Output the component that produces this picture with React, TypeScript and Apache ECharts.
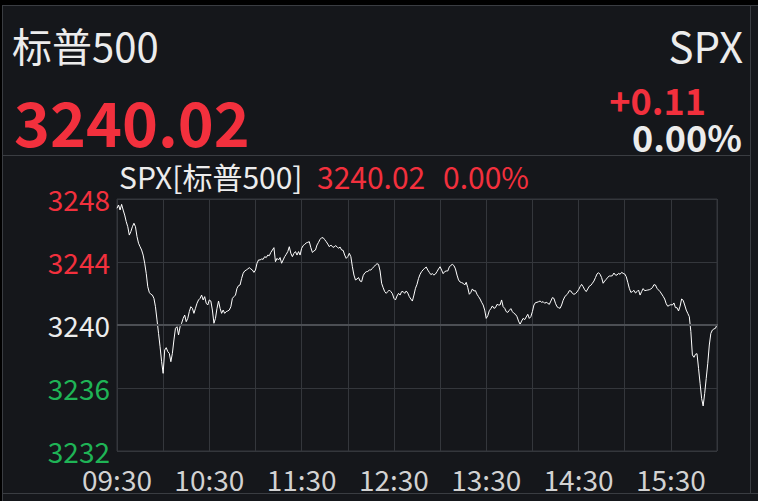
import React, { useEffect, useRef } from "react";
import * as echarts from "echarts";

// Tick labels
const yTicks = [3232, 3236, 3240, 3244, 3248];
const xHourLabels = ["09:30", "10:30", "11:30", "12:30", "13:30", "14:30", "15:30"];
const prevClose = 3240;

// Header texts
const nameCn = "标普500";
const code = "SPX";
const lastPrice = "3240.02";
const change = "+0.11";
const changePct = "0.00%";

// Minute-by-minute index values from 09:30 (index 0) to 16:00 (index 390)
const prices = [
  3247.41, 3247.62, 3247.3, 3247.66, 3247.3, 3246.98, 3246.56, 3246.24, 3245.71, 3245.93,
  3246.24, 3246.46, 3246.24, 3245.61, 3245.19, 3244.97, 3244.76, 3244.44, 3243.92, 3243.28,
  3242.43, 3242.07, 3241.95, 3241.9, 3241.69, 3241.16, 3240.32, 3239.47, 3238.62, 3237.67,
  3236.93, 3238.41, 3238.56, 3238.31, 3238.2, 3237.67, 3238.2, 3239.05, 3239.79, 3239.89,
  3239.37, 3239.89, 3240.11, 3240.42, 3240.63, 3240.21, 3240.42, 3240.85, 3241.16, 3241.06,
  3240.74, 3241.06, 3241.38, 3241.59, 3241.69, 3241.9, 3241.59, 3241.8, 3241.38, 3241.27,
  3241.59, 3241.52, 3240.95, 3240.11, 3240.42, 3241.06, 3241.52, 3241.06, 3240.74, 3240.95,
  3240.74, 3240.85, 3240.89, 3240.95, 3241.16, 3241.69, 3241.8, 3241.9, 3242.33, 3242.5,
  3242.54, 3242.96, 3243.28, 3243.43, 3243.49, 3243.56, 3243.64, 3243.56, 3243.49, 3243.34,
  3243.49, 3243.92, 3244.13, 3244.13, 3244.19, 3244.17, 3244.34, 3244.28,
  3244.44, 3244.4, 3244.61, 3244.76, 3244.91, 3244.02, 3244.23, 3244.13, 3244.28, 3243.92,
  3244.13, 3244.34, 3244.49, 3244.66, 3244.97, 3244.55, 3244.34, 3244.55, 3244.66, 3244.44,
  3244.66, 3244.44, 3244.87, 3245.04, 3245.12, 3245.21, 3245.25, 3245.29, 3244.91, 3244.61,
  3244.7, 3244.76, 3245.08, 3245.25, 3245.44, 3245.54, 3245.54, 3245.42, 3245.29, 3245.14,
  3244.97, 3245.08, 3244.97, 3244.93, 3245.04, 3244.97, 3244.87, 3244.95, 3244.76, 3244.74,
  3244.44, 3244.23, 3244.34, 3244.55, 3244.34, 3243.7, 3243.17, 3242.86, 3242.92, 3243.01,
  3242.79, 3242.75, 3243.13, 3243.3, 3243.38, 3243.4, 3243.49, 3243.49, 3243.6, 3243.7,
  3243.81, 3243.89, 3243.85, 3243.43, 3242.65, 3242.37, 3242.12, 3242.01, 3242.12, 3242.22,
  3242.12, 3241.99, 3241.69, 3241.59, 3241.84, 3242.01, 3241.9, 3242.12, 3242.12, 3242.01,
  3242.16, 3242.03, 3241.8, 3241.65, 3241.52, 3241.9, 3242.33, 3242.58,
  3242.96, 3243.22, 3243.39, 3243.51, 3243.6, 3243.68, 3243.49, 3243.34, 3243.2, 3243.26,
  3243.17, 3243.24, 3243.39, 3243.56, 3243.7, 3243.49, 3243.26, 3243.39, 3243.43, 3243.43,
  3243.68, 3243.79, 3243.85, 3243.77, 3243.56, 3243.17, 3242.86, 3242.73, 3242.69, 3242.65,
  3242.54, 3242.71, 3242.37, 3241.95, 3242.07, 3242.29, 3242.16, 3242.18, 3241.95, 3241.8,
  3241.65, 3241.44, 3241.27, 3240.95, 3240.42, 3240.59, 3240.91, 3241.04, 3241.21, 3241.06,
  3241.1, 3241.31, 3241.27, 3241.27, 3241.59, 3241.16, 3241.06, 3240.85, 3240.8, 3240.93,
  3241.04, 3240.85, 3240.74, 3240.68, 3240.53, 3240.25, 3240.04, 3240.25, 3240.42, 3240.34,
  3240.51, 3240.68, 3240.42, 3240.53, 3240.85, 3241.27, 3241.42, 3241.44, 3241.48, 3241.52,
  3241.44, 3241.48, 3241.38, 3241.44, 3241.38, 3241.31, 3241.52, 3241.74, 3241.69, 3241.38,
  3241.16, 3241.1, 3241.06, 3241.27, 3241.57, 3241.78, 3241.9, 3241.99,
  3242.18, 3242.16, 3242.01, 3241.95, 3241.99, 3242.1, 3242.24, 3242.43, 3242.58, 3242.43,
  3242.24, 3242.12, 3242.29, 3242.46, 3242.52, 3242.65, 3242.79, 3243.01, 3243.24, 3243.32,
  3243.22, 3243.01, 3242.65, 3242.79, 3242.9, 3243.03, 3243.11, 3243.11, 3243.13, 3243.3,
  3243.17, 3243.17, 3243.28, 3243.22, 3243.34, 3243.28, 3243.24, 3243.07, 3242.71, 3242.33,
  3242.07, 3242.12, 3242.2, 3242.03, 3242.12, 3242.22, 3241.9, 3242.12, 3242.31, 3242.18,
  3242.2, 3242.22, 3242.24, 3242.29, 3242.37, 3242.56, 3242.54, 3242.33, 3242.22, 3242.12,
  3241.97, 3241.82, 3241.65, 3241.35, 3241.19, 3241.25, 3241.29, 3241.27, 3241.4, 3241.1,
  3241.1, 3240.89, 3241.19, 3241.65, 3241.57, 3241.27, 3240.95, 3240.74, 3240.53, 3239.58,
  3238.1, 3237.95, 3238.14, 3238.18, 3237.25, 3236.3, 3235.34, 3234.86, 3235.66, 3236.61,
  3237.57, 3238.73, 3239.47, 3239.68, 3239.75, 3239.79, 3240.02,
];

const RED = "#f2303d";
const GREEN = "#1fb456";
const WHITE = "#ececec";
const BG = "#15171b";
const LINE = "#34373c";
const FONT = "'Noto Sans CJK SC', 'Noto Sans', sans-serif";

export default function App() {
  const ref = useRef<HTMLDivElement>(null);
  useEffect(() => {
    document.body.style.margin = "0";
    document.body.style.background = BG;
    const chart = echarts.init(ref.current!, null, { renderer: "svg" });
    const data = prices.map((p, i) => [i, p]);
    chart.setOption({
      animation: false,
      backgroundColor: BG,
      textStyle: { fontFamily: FONT },
      grid: {
        left: 117,
        top: 199,
        width: 600,
        height: 252,
        show: true,
        borderColor: LINE,
        borderWidth: 1,
        backgroundColor: "transparent",
      },
      xAxis: {
        type: "value",
        min: 0,
        max: 390,
        interval: 30,
        axisLine: { show: false },
        axisTick: { show: false },
        splitLine: { show: true, lineStyle: { color: LINE, width: 1 } },
        axisLabel: {
          color: "#d2d2d2",
          fontSize: 28,
          lineHeight: 24,
          fontFamily: FONT,
          margin: 16,
          showMaxLabel: false,
          formatter: (v: number) => (v % 60 === 0 ? xHourLabels[v / 60] ?? "" : ""),
        },
      },
      yAxis: {
        type: "value",
        min: yTicks[0],
        max: yTicks[yTicks.length - 1],
        interval: 4,
        axisLine: { show: false },
        axisTick: { show: false },
        splitLine: { show: true, lineStyle: { color: LINE, width: 1 } },
        axisLabel: {
          fontSize: 28,
          lineHeight: 24,
          fontFamily: FONT,
          margin: 7,
          formatter: (v: number) => String(v),
          color: (v: any) => {
            const n = Number(v);
            return n > prevClose ? RED : n < prevClose ? GREEN : WHITE;
          },
        },
      },
      series: [
        {
          type: "line",
          data,
          showSymbol: false,
          symbol: "none",
          lineStyle: { color: "#ffffff", width: 1 },
          markLine: {
            silent: true,
            symbol: "none",
            label: { show: false },
            lineStyle: { color: "#4c4f54", width: 2, type: "solid" },
            data: [{ yAxis: prevClose }],
          },
        },
      ],
      graphic: [
        { type: "rect", shape: { x: 0, y: 0, width: 758, height: 5 }, style: { fill: "#000" }, silent: true },
        { type: "rect", shape: { x: 0, y: 0, width: 2, height: 501 }, style: { fill: "#000" }, silent: true },
        { type: "line", shape: { x1: 2, y1: 5.5, x2: 758, y2: 5.5 }, style: { stroke: "#3a3d42", lineWidth: 1 } },
        { type: "line", shape: { x1: 2.5, y1: 5, x2: 2.5, y2: 501 }, style: { stroke: "#3a3d42", lineWidth: 1 } },
        { type: "line", shape: { x1: 750.5, y1: 5, x2: 750.5, y2: 493 }, style: { stroke: "#3a3d42", lineWidth: 1 } },
        { type: "line", shape: { x1: 2, y1: 155.5, x2: 750, y2: 155.5 }, style: { stroke: "#3a3d42", lineWidth: 1 } },
        { type: "line", shape: { x1: 2, y1: 493.5, x2: 758, y2: 493.5 }, style: { stroke: "#3a3d42", lineWidth: 1 } },
        {
          type: "text", x: 12, y: 45,
          style: { text: nameCn, fill: WHITE, fontSize: 40, fontFamily: FONT, textVerticalAlign: "middle" },
        },
        {
          type: "text", x: 14, y: 120,
          style: { text: lastPrice, fill: RED, fontSize: 61, lineHeight: 50, fontWeight: "bold", fontFamily: FONT, textVerticalAlign: "middle" },
        },
        {
          type: "text", x: 743, y: 44,
          style: { text: code, fill: WHITE, fontSize: 42, fontFamily: FONT, textAlign: "right", textVerticalAlign: "middle" },
        },
        {
          type: "text", x: 706, y: 99,
          style: { text: change, fill: RED, fontSize: 36, lineHeight: 28, fontWeight: "bold", fontFamily: FONT, textAlign: "right", textVerticalAlign: "middle" },
        },
        {
          type: "text", x: 742, y: 136,
          style: { text: changePct, fill: WHITE, fontSize: 36, lineHeight: 28, fontWeight: "bold", fontFamily: FONT, textAlign: "right", textVerticalAlign: "middle" },
        },
        {
          type: "text", x: 119, y: 176,
          style: { text: code + "[" + nameCn + "]", fill: WHITE, fontSize: 30, lineHeight: 24, fontFamily: FONT, textVerticalAlign: "middle" },
        },
        {
          type: "text", x: 317, y: 176,
          style: { text: lastPrice, fill: RED, fontSize: 30, lineHeight: 24, fontFamily: FONT, textVerticalAlign: "middle" },
        },
        {
          type: "text", x: 443, y: 176,
          style: { text: changePct, fill: RED, fontSize: 30, lineHeight: 24, fontFamily: FONT, textVerticalAlign: "middle" },
        },
      ],
    });
    return () => chart.dispose();
  }, []);
  return <div ref={ref} style={{ width: 758, height: 501 }} />;
}
